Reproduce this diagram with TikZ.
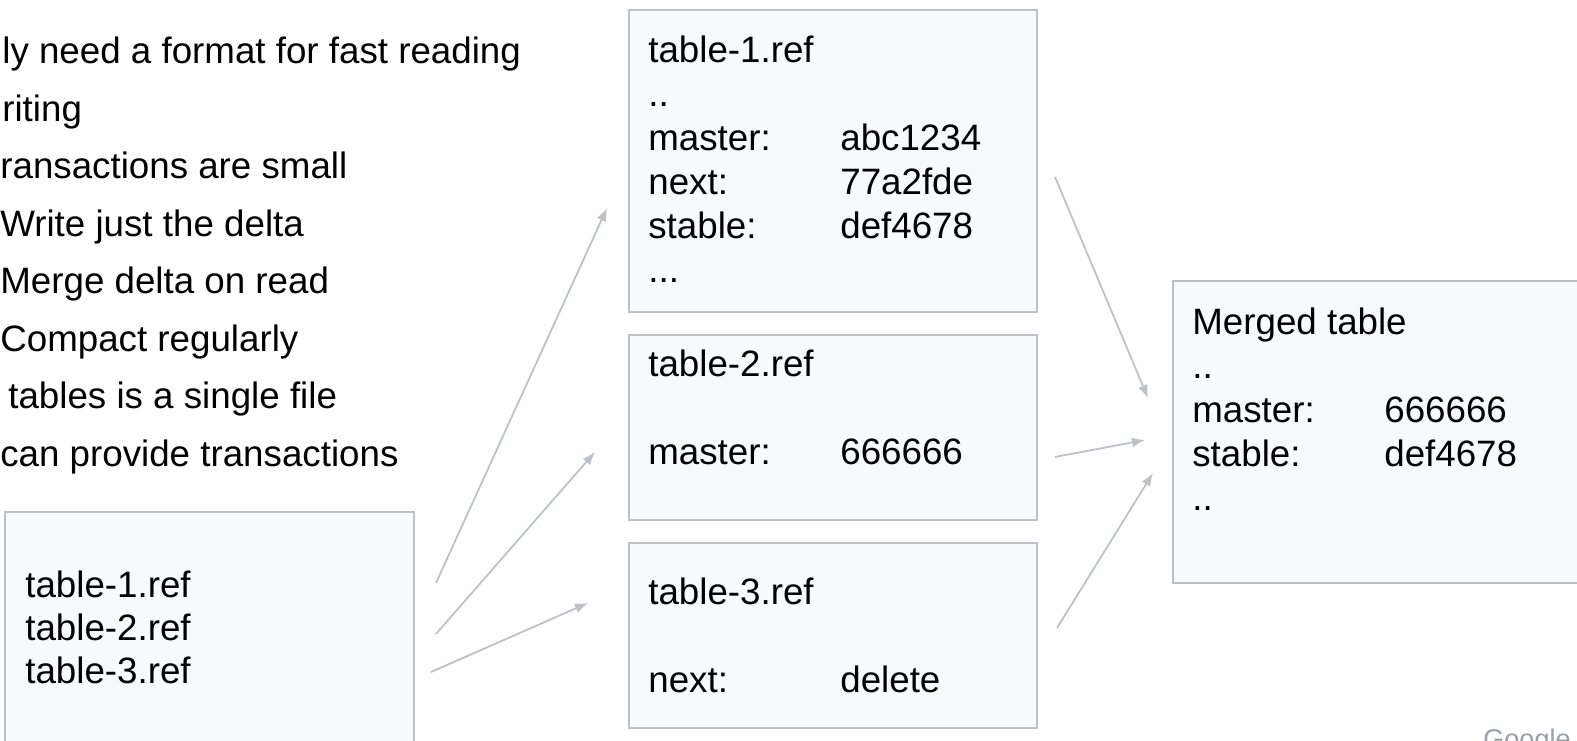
\documentclass[tikz,border=0pt]{standalone}
\usepackage{fontspec}
\setmainfont{Liberation Sans}
\usetikzlibrary{arrows.meta}
\definecolor{boxfill}{HTML}{F8F9FA}
\definecolor{boxline}{HTML}{BDC1C6}
\definecolor{arrowgray}{HTML}{BDC1C6}
\definecolor{logogray}{HTML}{9AA0A6}
\newcommand{\kv}[2]{\makebox[3.84cm][l]{#1}#2}

\begin{document}
\begin{tikzpicture}[>={Latex[length=0.26cm,width=0.2cm]},
    box/.style={draw=boxline,fill=boxfill,line width=1.1pt,inner sep=0pt},
    txt/.style={anchor=base west,inner sep=0pt,font=\fontsize{20.9}{25}\selectfont},
    conn/.style={->,draw=arrowgray,line width=1pt}]
        \useasboundingbox (0,0) rectangle (31.54,14.82);
        \clip (0,0) rectangle (31.54,14.82);
        % notes on the left
        \foreach \x/\y/\t [count=\i] in {0.04/13.54/ly need a format for fast reading,0.04/12.39/riting,0.00/11.24/ransactions are small,0.00/10.09/Write just the delta,0.00/8.94/Merge delta on read,0.00/7.79/Compact regularly,0.16/6.64/tables is a single file,0.00/5.49/can provide transactions}
          \node[txt] (note\i) at (\x,\y) {\t};
        % boxes
        \node[box,minimum width=8.18cm,minimum height=6cm] (refs) at (4.19,1.58) {};
        \node[box,minimum width=8.16cm,minimum height=6.04cm] (tab1) at (16.66,11.60) {};
        \node[box,minimum width=8.16cm,minimum height=3.70cm] (tab2) at (16.66,6.27) {};
        \node[box,minimum width=8.16cm,minimum height=3.70cm] (tab3) at (16.66,2.11) {};
        \node[box,minimum width=10cm,minimum height=6.04cm] (merged) at (28.46,6.18) {};
        \foreach \y/\n in {2.86/1,2.00/2,1.14/3}
          \node[txt] (refs\n) at (0.50,\y) {table-\n.ref};
        \node[txt] (tab1name) at (12.96,13.56) {table-1.ref};
        \node[txt] (tab1dots) at (12.96,12.68) {..};
        \node[txt] (tab1master) at (12.96,11.80) {\kv{master:}{abc1234}};
        \node[txt] (tab1next) at (12.96,10.92) {\kv{next:}{77a2fde}};
        \node[txt] (tab1stable) at (12.96,10.04) {\kv{stable:}{def4678}};
        \node[txt] (tab1more) at (12.96,9.16) {...};
        \node[txt] (tab2name) at (12.96,7.28) {table-2.ref};
        \node[txt] (tab2master) at (12.96,5.52) {\kv{master:}{666666}};
        \node[txt] (tab3name) at (12.96,2.72) {table-3.ref};
        \node[txt] (tab3next) at (12.96,0.96) {\kv{next:}{delete}};
        \node[txt] (mergedname) at (23.84,8.12) {Merged table};
        \node[txt] (mergeddots) at (23.84,7.24) {..};
        \node[txt] (mergedmaster) at (23.84,6.36) {\kv{master:}{666666}};
        \node[txt] (mergedstable) at (23.84,5.48) {\kv{stable:}{def4678}};
        \node[txt] (mergedmore) at (23.84,4.60) {..};
        % arrow ends
        \coordinate (out1) at (8.72,3.16);
        \coordinate (out2) at (8.72,2.14);
        \coordinate (out3) at (8.62,1.38);
        \coordinate (in1) at (12.14,10.66);
        \coordinate (in2) at (11.90,5.78);
        \coordinate (in3) at (11.76,2.76);
        \coordinate (from1) at (21.10,11.28);
        \coordinate (from2) at (21.10,5.68);
        \coordinate (from3) at (21.14,2.26);
        \coordinate (to1) at (22.96,6.86);
        \coordinate (to2) at (22.90,6.02);
        \coordinate (to3) at (23.06,5.36);
        \foreach \i in {1,2,3} {
          \draw[conn] (out\i) -- (in\i);
          \draw[conn] (from\i) -- (to\i);
        }
        \node[anchor=base west,inner sep=0pt,font=\fontsize{15.4}{18}\selectfont,text=logogray] (logo) at (29.66,-0.16) {Google};
      \end{tikzpicture}
\end{document}
